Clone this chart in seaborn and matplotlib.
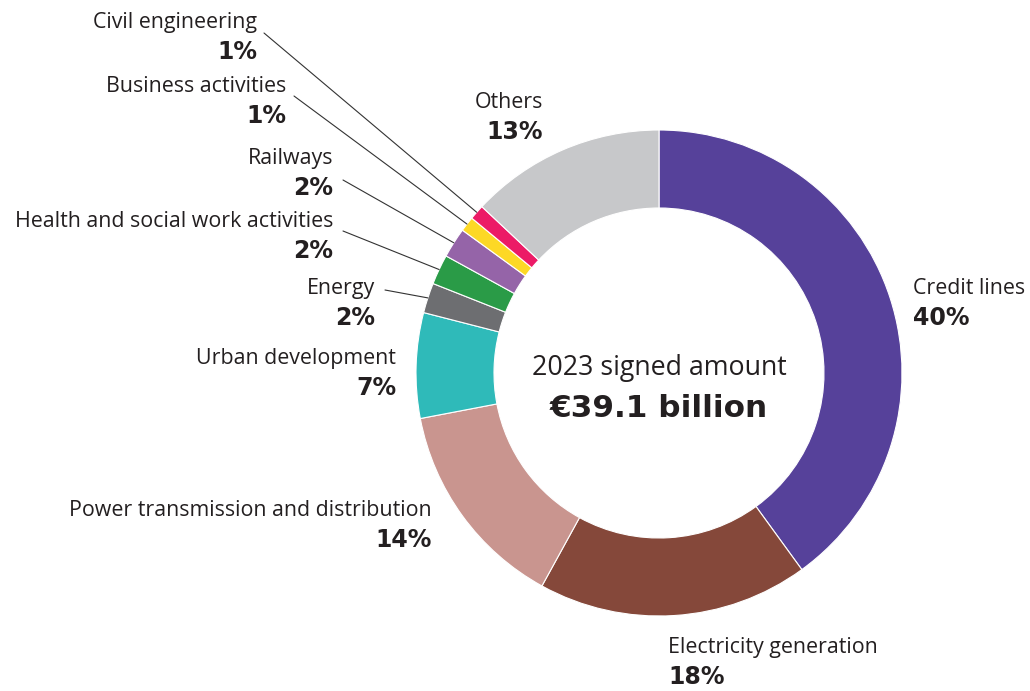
import numpy as np
import matplotlib
matplotlib.use("Agg")
from matplotlib import pyplot as plt
import seaborn as sns

# sectors, clockwise from 12 o'clock
sectors = ["Credit lines", "Electricity generation", "Power transmission and distribution",
           "Urban development", "Energy", "Health and social work activities", "Railways",
           "Business activities", "Civil engineering", "Others"]
shares = [40, 18, 14, 7, 2, 2, 2, 1, 1, 13]
colors = ["#56419a", "#85483a", "#c9958f", "#2fbab9", "#6d6e71",
          "#2a9b47", "#9564a8", "#fdd825", "#ec1b66", "#c7c8ca"]

center_title = "2023 signed amount"
center_value = "€39.1 billion"

sns.set_theme(style="white")
plt.rcParams["font.family"] = ["Open Sans", "DejaVu Sans"]

fig = plt.figure(figsize=(10.3, 6.91), dpi=100)
ax = fig.add_axes([0, 0, 1, 1])

# pixel-like coords, y goes down -> counterclock=True looks clockwise
cx, cy, R, W = 659, 373, 243, 78
wedges, _ = ax.pie(shares, colors=colors, startangle=-90, counterclock=True,
                   center=(cx, cy), radius=R,
                   wedgeprops=dict(width=W, edgecolor="white", linewidth=0.8))
ax.set_xlim(0, 1030)
ax.set_ylim(691, 0)
ax.axis("off")

# label anchor (x, y of name line), alignment, leader line start (or None)
layout = {
    "Credit lines": (913, 288, "left", None),
    "Electricity generation": (668, 647, "left", None),
    "Power transmission and distribution": (432, 510, "right", None),
    "Urban development": (396, 358, "right", None),
    "Energy": (375, 288, "right", (385, 290)),
    "Health and social work activities": (333, 221, "right", (343, 231)),
    "Railways": (333, 158, "right", (343, 180)),
    "Business activities": (286, 86, "right", (294, 96)),
    "Civil engineering": (257, 22, "right", (264, 33)),
    "Others": (543, 102, "right", None),
}

for w, name, val in zip(wedges, sectors, shares):
    x, y, ha, start = layout[name]
    ax.text(x, y, name, ha=ha, va="center", fontsize=15.4, color="#231f20")
    ax.text(x, y + 30, f"{val}%", ha=ha, va="center", fontsize=17,
            fontweight="bold", family="DejaVu Sans", color="#231f20")
    if start is not None:
        mid = np.deg2rad((w.theta1 + w.theta2) / 2)
        ex, ey = cx + R * np.cos(mid), cy + R * np.sin(mid)
        ax.plot([start[0], ex], [start[1], ey], color="#333333", lw=0.8)

ax.text(cx, 368, center_title, ha="center", va="center", fontsize=19.3, color="#231f20")
ax.text(cx, 408, center_value, ha="center", va="center", fontsize=22.4,
        fontweight="bold", family="DejaVu Sans", color="#231f20")

fig.savefig("out.png", dpi=100)
